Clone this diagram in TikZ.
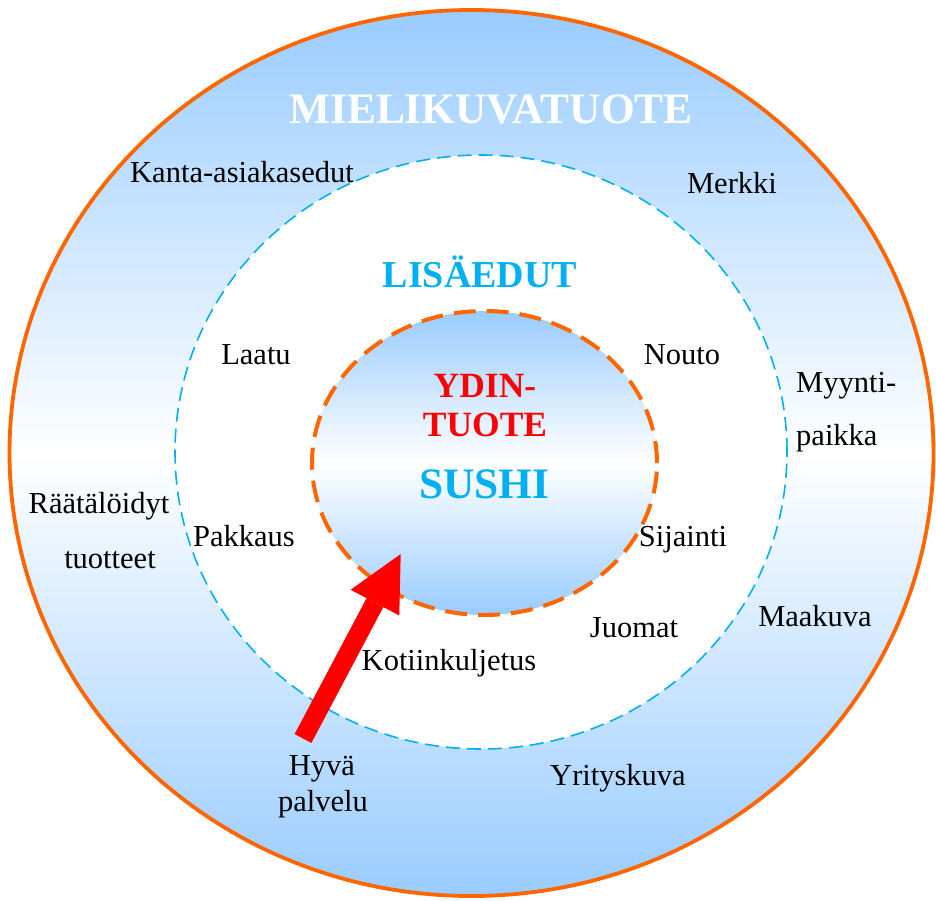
\documentclass[tikz,border=0pt]{standalone}
\usepackage{fontspec}
\setmainfont{Liberation Serif}
\usetikzlibrary{arrows.meta,shapes.geometric}

\definecolor{ringblue}{RGB}{153,204,255}
\definecolor{ringorange}{RGB}{255,102,0}
\definecolor{skycyan}{RGB}{0,176,240}
\definecolor{corered}{RGB}{255,0,0}

\begin{document}
\begin{tikzpicture}[x=1pt,y=-1pt,
  ring/.style={ellipse, inner sep=0pt, outer sep=0pt},
  bluefade/.style={top color=ringblue, bottom color=ringblue, middle color=white},
  lbl/.style={font=\fontsize{30.5}{36}\selectfont, anchor=base, inner sep=0pt},
  lblleft/.style={lbl, anchor=base west},
  heading/.style={font=\bfseries\fontsize{#1}{#1}\selectfont, anchor=base, inner sep=0pt}
]
\useasboundingbox (0,0) rectangle (936,900);

% outer ring: image product
\node[ring, bluefade, draw=ringorange, line width=3.8pt,
      minimum width=924pt, minimum height=886pt] (outer) at (471.5,453) {};
% middle ring: added benefits
\node[ring, fill=white, draw=skycyan, line width=1.6pt,
      dash pattern=on 14pt off 7pt,
      minimum width=612pt, minimum height=594pt] (middle) at (481,452) {};
% core product
\node[ring, bluefade, draw=ringorange, line width=4pt,
      dash pattern=on 22pt off 11pt,
      minimum width=345pt, minimum height=304pt] (core) at (484.5,463) {};

% ring headings
\node[heading=43.4, text=white] (mielikuva) at (491,123) {MIELIKUVATUOTE};
\node[heading=38, text=skycyan] (lisaedut) at (480,287) {LISÄEDUT};
\node[heading=35.5, text=corered] (ydin) at (485,397) {YDIN-};
\node[heading=35.5, text=corered] (tuote) at (485,436) {TUOTE};
\node[heading=43.4, text=skycyan] (sushi) at (484.5,498) {SUSHI};

% outer ring labels
\node[lbl] (kanta) at (242,182) {Kanta-asiakasedut};
\node[lbl] (merkki) at (732,193) {Merkki};
\node[lblleft] (myynti) at (796,392) {Myynti-};
\node[lblleft] (paikka) at (796,445) {paikka};
\node[lbl] (raata) at (99,513) {Räätälöidyt};
\node[lbl] (tuotteet) at (110,568) {tuotteet};
\node[lbl] (maakuva) at (815,626) {Maakuva};
\node[lbl] (hyva) at (322,775) {Hyvä};
\node[lbl] (palvelu) at (323,811) {palvelu};
\node[lbl] (yritys) at (618,785) {Yrityskuva};

% middle ring labels
\node[lbl] (laatu) at (256,364) {Laatu};
\node[lbl] (nouto) at (682,364) {Nouto};
\node[lbl] (pakkaus) at (244,546) {Pakkaus};
\node[lbl] (sijainti) at (683,546) {Sijainti};
\node[lbl] (juomat) at (634,637) {Juomat};
\node[lbl] (koti) at (449,670) {Kotiinkuljetus};

% service arrow pointing into the core
\coordinate (tail) at (303,738.5);
\coordinate (tip) at (400.7,554);
\draw[corered, line width=19pt,
      -{Triangle[length=55pt, width=55pt, line width=0pt]}] (tail) -- (tip);
\end{tikzpicture}
\end{document}
